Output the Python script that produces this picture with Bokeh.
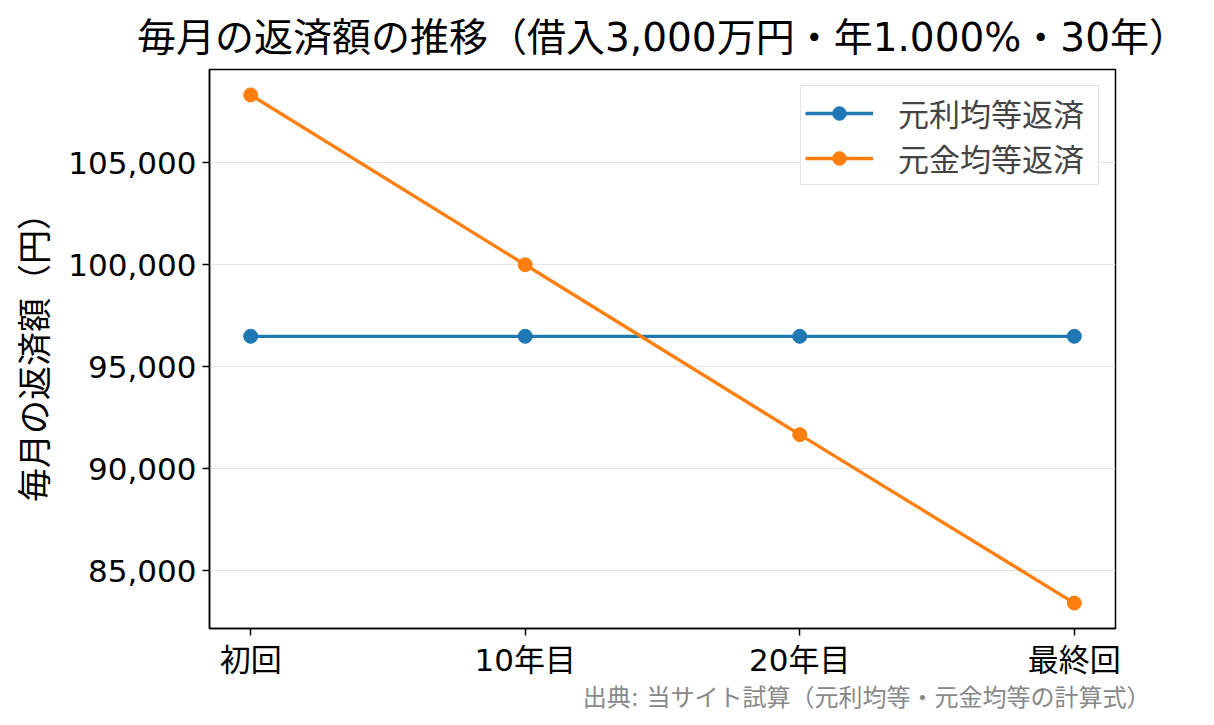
from bokeh.plotting import figure
from bokeh.models import (Range1d, FixedTicker, NumeralTickFormatter, Legend, LegendItem, Title)
from bokeh.embed import file_html
from bokeh.resources import INLINE

# ---- data ----
periods = ["初回", "10年目", "20年目", "最終回"]
equal_payment = [96491, 96491, 96491, 96491]          # 元利均等返済
equal_principal = [108333, 100000, 91667, 83403]      # 元金均等返済
y_ticks = [85000, 90000, 95000, 100000, 105000]

title_text = "毎月の返済額の推移（借入3,000万円・年1.000%・30年）"
y_label = "毎月の返済額（円）"
source_text = "出典: 当サイト試算（元利均等・元金均等の計算式）"
series_names = ["元利均等返済", "元金均等返済"]
colors = ["#1f77b4", "#ff7f0e"]

FONT = "'DejaVu Sans', 'Noto Sans CJK JP'"

x = list(range(len(periods)))
ymin = min(equal_payment + equal_principal)
ymax = max(equal_payment + equal_principal)
yspan = ymax - ymin

p = figure(width=1214, height=725, output_backend="svg", toolbar_location=None,
           x_range=Range1d(-0.15, len(periods) - 1 + 0.15),
           y_range=Range1d(ymin - 0.05 * yspan, ymax + 0.05 * yspan),
           min_border_left=209, min_border_right=99, min_border_bottom=97, min_border_top=69)

p.title.text = title_text
p.title.text_font = FONT
p.title.text_font_size = "39px"
p.title.text_font_style = "normal"
p.title.text_color = "black"
p.title.align = "center"
p.title.standoff = 19

p.outline_line_color = "black"
p.outline_line_width = 1.5

p.xgrid.grid_line_color = None
p.ygrid.grid_line_color = "#e5e5e5"
p.ygrid.grid_line_width = 1.2

p.xaxis.ticker = FixedTicker(ticks=x)
p.xaxis.major_label_overrides = {i: s for i, s in enumerate(periods)}
p.yaxis.ticker = FixedTicker(ticks=y_ticks)
p.yaxis.formatter = NumeralTickFormatter(format="0,0")
p.yaxis.axis_label = y_label

for ax in (p.xaxis[0], p.yaxis[0]):
    ax.axis_line_color = "black"
    ax.axis_line_width = 1.5
    ax.major_tick_line_color = "black"
    ax.major_tick_line_width = 1.5
    ax.major_tick_out = 7
    ax.major_tick_in = 0
    ax.minor_tick_line_color = None
    ax.major_label_text_font = FONT
    ax.major_label_text_font_size = "31px"
    ax.major_label_text_color = "black"
    ax.major_label_standoff = 6
    ax.axis_label_text_font = FONT
    ax.axis_label_text_font_size = "34px"
    ax.axis_label_text_font_style = "normal"
    ax.axis_label_text_color = "black"
    ax.axis_label_standoff = 10

items = []
for name, ys, c in zip(series_names, [equal_payment, equal_principal], colors):
    r1 = p.line(x, ys, line_color=c, line_width=3.3)
    r2 = p.scatter(x, ys, size=14, fill_color=c, line_color=c)
    items.append(LegendItem(label=name, renderers=[r1, r2]))

legend = Legend(items=items, location="top_right")
legend.label_text_font = FONT
legend.label_text_font_size = "31px"
legend.glyph_width = 68
legend.glyph_height = 34
legend.label_height = 34
legend.label_width = 196
legend.label_standoff = 25
legend.spacing = 0
legend.padding = 4
legend.margin = 16
legend.border_line_color = "#cccccc"
legend.border_line_width = 1.5
legend.background_fill_alpha = 0.9
p.add_layout(legend)

src = Title(text=source_text, align="right", text_font=FONT, text_font_size="24px",
            text_font_style="normal", text_color="#888888", offset=-35, standoff=2)
p.add_layout(src, "below")

open("out.html", "w").write(file_html(p, INLINE))
